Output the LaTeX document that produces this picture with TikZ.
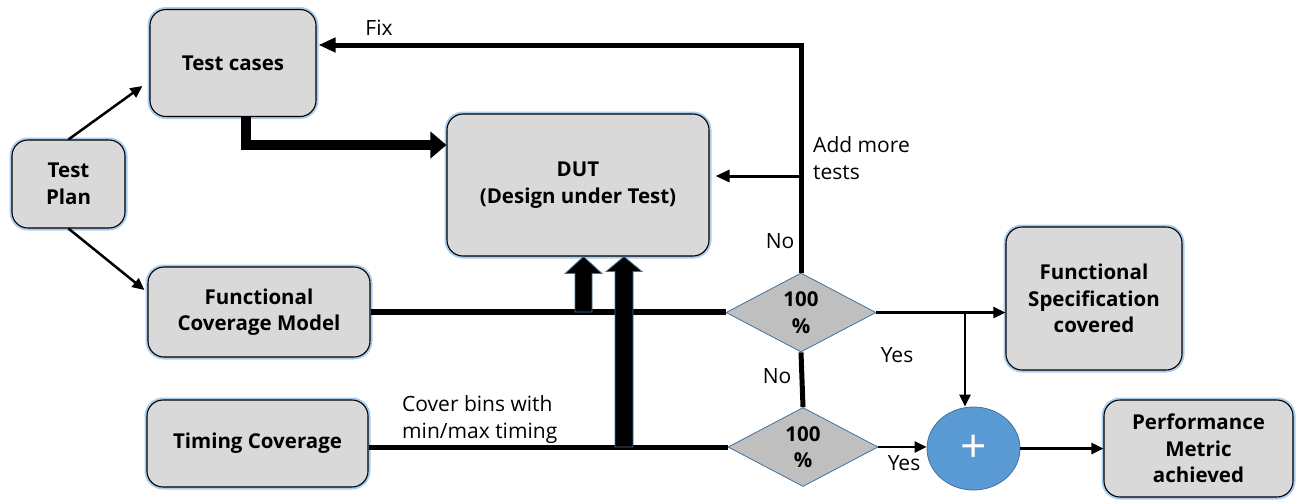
\documentclass[tikz,border=0pt]{standalone}
\usepackage{fontspec}
\setmainfont{Open Sans}
\usetikzlibrary{arrows.meta,shapes.geometric,calc}

\definecolor{boxfill}{HTML}{D9D9D9}
\definecolor{glow}{HTML}{A9CDEF}
\definecolor{dfill}{HTML}{BFBFBF}
\definecolor{dblue}{HTML}{41719C}
\definecolor{cblue}{HTML}{5B9BD5}

\newcommand\boldtext{\fontsize{20.5}{26.5}\selectfont\bfseries}
\newcommand\plaintext{\fontsize{21}{27}\selectfont}

% upward block arrow: #1 foot, #2 tip, #3 half shaft, #4 half head, #5 head length
\newcommand\uparrowshape[5]{%
  \filldraw[blockarr] ($(#1)+(-#3,0)$) -- ($(#2)+(-#3,#5)$) -- ($(#2)+(-#4,#5)$)
    -- (#2) -- ($(#2)+(#4,#5)$) -- ($(#2)+(#3,#5)$) -- ($(#1)+(#3,0)$) -- cycle;}

\begin{document}
\begin{tikzpicture}[x=1pt,y=-1pt,
  box/.style={draw=black, line width=1.1pt, fill=boxfill, rounded corners=16pt,
    align=center, font=\boldtext, inner sep=0pt,
    preaction={draw=glow, line width=5pt}},
  dia/.style={diamond, draw=dblue, line width=0.8pt, fill=dfill,
    minimum width=150pt, minimum height=79pt, inner sep=0pt,
    align=center, font=\boldtext},
  lbl/.style={font=\plaintext, inner sep=0pt, align=left},
  thinarr/.style={line width=2.5pt, -{Triangle[length=12pt,width=11pt]}},
  midarr/.style={line width=3pt, -{Triangle[length=14pt,width=12pt]}},
  fixarr/.style={line width=5pt, -{Triangle[length=17pt,width=14pt]}},
  bigarr/.style={line width=10pt, line join=miter, -{Triangle[length=16pt,width=26pt]}},
  flow/.style={line width=#1},
  blockarr/.style={fill=black, draw=dblue, line width=0.8pt}
]
\useasboundingbox (0,0) rectangle (1300,499);

% boxes
\node[box, minimum width=113pt, minimum height=88pt] (tp) at (68.5,184) {Test\\Plan};
\node[box, minimum width=166pt, minimum height=107pt] (tc) at (233,63) {Test cases};
\node[box, minimum width=262pt, minimum height=142pt] (dut) at (578,185) {DUT\\(Design under Test)};
\node[box, minimum width=222pt, minimum height=90pt] (fcm) at (259,312) {Functional\\Coverage Model};
\node[box, minimum width=221pt, minimum height=87pt] (tim) at (257.5,443.5) {Timing Coverage};
\node[box, minimum width=176pt, minimum height=143pt] (fsc) at (1094,298.5) {Functional\\Specification\\covered};
\node[box, minimum width=189pt, minimum height=97pt] (pma) at (1198.5,448.5) {Performance\\Metric\\achieved};

% decisions and merge
\node[dia] (d1) at (801,312.5) {100\\\%};
\node[dia] (d2) at (803,447) {100\\\%};
\node[ellipse, draw=dblue, line width=0.8pt, fill=cblue, minimum width=93pt,
  minimum height=83pt, inner sep=0pt, text=white,
  font=\fontsize{46}{46}\selectfont] (circ) at (973.5,448.5) {+};

% plan to cases and model
\draw[thinarr] (tp.north) -- ([xshift=-7pt,yshift=-23pt]tc.west);
\draw[thinarr] (tp.south) -- ([xshift=-3pt,yshift=22pt]fcm.west);

% test cases drive the DUT
\draw[bigarr] ([xshift=13pt]tc.south) |- ([yshift=40pt]dut.west);

% coverage lines into the decisions
\draw[flow=6pt] (fcm.east) -- (fcm.east -| d1.west);
\draw[flow=5pt] (d2.west -| tim.east) -- (d2.west);
\draw[flow=5pt] (d1.south) -- (d2.north);

% feedback loop
\draw[fixarr, shorten >=2pt] (d1.north) |- ([yshift=18pt]tc.east);
\coordinate (amt) at (800,176);
\draw[midarr, shorten >=6pt] (amt) -- (amt -| dut.east);

% block arrows into the DUT
\coordinate (fb) at (583.5,312);
\coordinate (ft) at (fb |- dut.south);
\coordinate (tb) at (624,447);
\coordinate (tt) at (tb |- dut.south);
\uparrowshape{fb}{ft}{8.5}{18.5}{17}
\uparrowshape{tb}{tt}{9}{18}{15}

% results
\draw[thinarr] (d1.east) -- (d1.east -| fsc.west);
\coordinate (br) at (965,312.5);
\draw[thinarr] (br) -- (br |- circ.north);
\draw[thinarr] (d2.east) -- (d2.east -| circ.west);
\draw[thinarr] (circ.east) -- (circ.east -| pma.west);

% labels
\node[lbl] (lfix) at (379,28) {Fix};
\node[lbl, anchor=west] (ladd) at (813,158) {Add more\\tests};
\node[lbl] (lno1) at (780,241) {No};
\node[lbl] (lno2) at (777,376) {No};
\node[lbl] (lyes1) at (897,355) {Yes};
\node[lbl] (lyes2) at (904,463) {Yes};
\node[lbl, anchor=west] (lcov) at (402,420) {Cover bins with\\min/max timing};
\end{tikzpicture}
\end{document}
